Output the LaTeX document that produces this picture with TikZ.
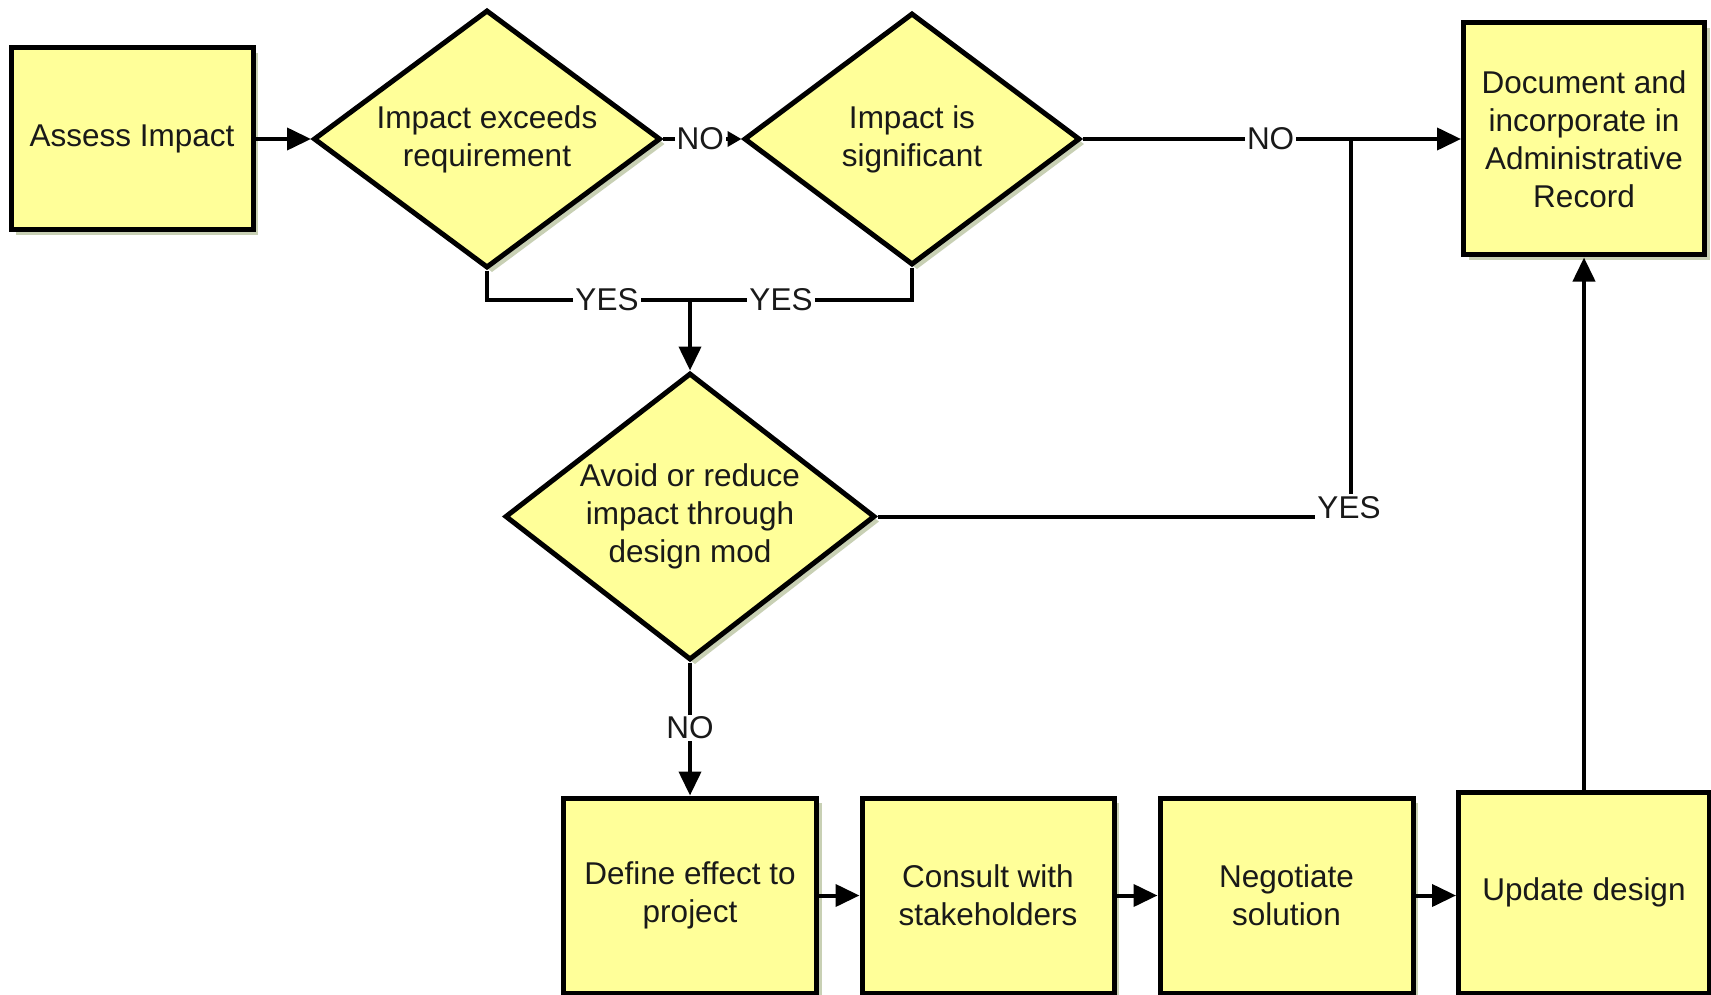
\documentclass[tikz,border=0pt]{standalone}
\usepackage{fontspec}
\setmainfont{Liberation Sans}
\usetikzlibrary{shapes.geometric,arrows.meta,shadows}
\definecolor{boxfill}{RGB}{255,255,153}
\definecolor{shadowc}{RGB}{200,208,180}
\begin{document}
\begin{tikzpicture}[x=1pt,y=-1pt,
  every node/.style={font=\fontsize{31.5}{38}\selectfont, text=black!90},
  myshadow/.style={drop shadow={shadow xshift=5pt, shadow yshift=-5pt, fill=shadowc, opacity=1}},
  boxnode/.style={draw, line width=5pt, fill=boxfill, rectangle, align=center, inner sep=0pt, myshadow},
  decision/.style={draw, line width=5pt, fill=boxfill, diamond, align=center, inner sep=0pt, myshadow},
  conn/.style={line width=4pt},
  arr/.style={conn, -{Triangle[length=24pt,width=22pt]}},
  smallarr/.style={conn, -{Triangle[length=14pt,width=15pt]}},
  lbl/.style={fill=white, inner sep=2pt}
]
\useasboundingbox (0,0) rectangle (1711,995);

% nodes
\node[boxnode, minimum width=242pt, minimum height=182pt] (assess) at (132,139) {Assess Impact};
\node[decision, minimum width=347pt, minimum height=258pt, aspect=1.35] (d1) at (487,139) {Impact exceeds\\requirement};
\node[decision, minimum width=336pt, minimum height=252pt, aspect=1.33] (d2) at (912,139) {Impact is\\significant};
\node[boxnode, minimum width=241pt, minimum height=232pt] (doc) at (1584,139) {Document and\\incorporate in\\Administrative\\Record};
\node[decision, minimum width=370pt, minimum height=287pt, aspect=1.29] (d3) at (690,516.5) {Avoid or reduce\\impact through\\design mod};
\node[boxnode, minimum width=253pt, minimum height=195pt] (define) at (690,895.5) {Define effect to\\project};
\node[boxnode, minimum width=252pt, minimum height=195pt] (consult) at (988,895.5) {Consult with\\stakeholders};
\node[boxnode, minimum width=253pt, minimum height=195pt] (negotiate) at (1286.5,895.5) {Negotiate\\solution};
\node[boxnode, minimum width=251pt, minimum height=201pt] (update) at (1584,892.5) {Update design};

% helper coordinates
\coordinate (m) at (690,300);
\coordinate (j) at (1351,139);
\coordinate (k) at (1351,516.5);

% connectors
\draw[arr] (assess.east) -- (d1.west);
\draw[smallarr] (d1.east) -- node[lbl, pos=0.476] (no1) {NO} (d2.west);
\draw[arr] (d2.east) -- node[lbl, pos=0.497] (no2) {NO} (doc.west);

\draw[conn] (d1.south) |- (m);
\node[lbl] (yes1) at (607,300) {YES};
\draw[conn] (d2.south) |- (m);
\node[lbl] (yes2) at (781,300) {YES};
\draw[arr] (m) -- (d3.north);

\draw[conn] (d3.east) -- (k) -- (j);
\node[lbl, anchor=base] (yes3) at (1349,518) {YES};

\draw[arr] (d3.south) -- node[lbl, pos=0.49] (no3) {NO} (define.north);
\draw[arr] (define.east) -- (consult.west);
\draw[arr] (consult.east) -- (negotiate.west);
\draw[arr] (negotiate.east) -- (negotiate.east -| update.west);
\draw[arr] (update.north) -- (update.north |- doc.south);
\end{tikzpicture}
\end{document}
